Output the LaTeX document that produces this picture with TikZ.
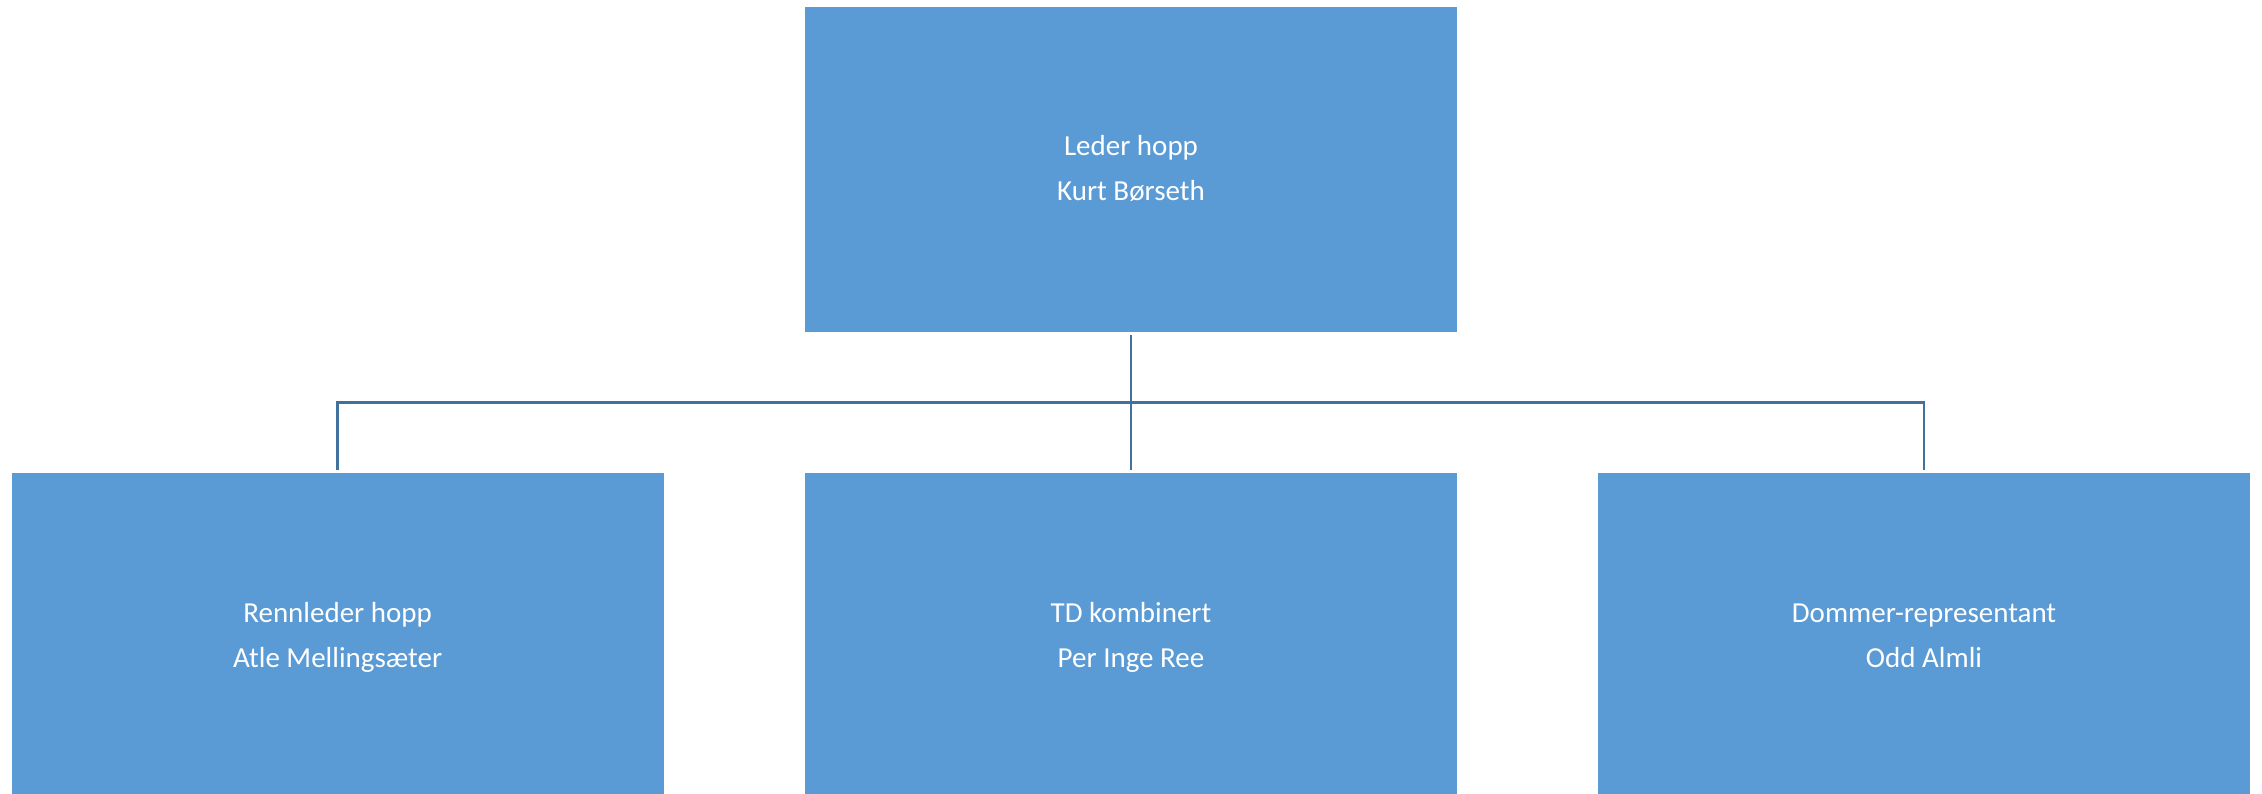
\documentclass[tikz,border=0pt]{standalone}
\usepackage{fontspec}
\setmainfont{Carlito}
\definecolor{boxblue}{RGB}{91,155,213}
\definecolor{lineblue}{RGB}{65,113,156}
\begin{document}
\begin{tikzpicture}[x=1pt,y=-1pt,
  orgbox/.style={fill=boxblue,draw=none,inner sep=0pt},
  orgtext/.style={text=white,align=center,anchor=base,inner sep=0pt,font=\fontsize{29}{45}\selectfont},
  conn/.style={draw=lineblue,line width=2.6pt}]
\useasboundingbox (0,0) rectangle (2262,794);
\node[orgbox,minimum width=652pt,minimum height=325pt] (top) at (1131,169.5) {};
\node[orgbox,minimum width=652pt,minimum height=321pt] (left) at (337.6,633.5) {};
\node[orgbox,minimum width=652pt,minimum height=321pt] (mid) at (1131,633.5) {};
\node[orgbox,minimum width=652pt,minimum height=321pt] (right) at (1924,633.5) {};
\node[orgtext] (ttop) at (1131,201) {Leder hopp\\Kurt Børseth};
\node[orgtext] (tleft) at (337.6,667.7) {Rennleder hopp\\Atle Mellingsæter};
\node[orgtext] (tmid) at (1131,667.7) {TD kombinert\\Per Inge Ree};
\node[orgtext] (tright) at (1924,667.7) {Dommer-representant\\Odd Almli};
\coordinate (junc) at (1131,402.7);
\draw[conn] ([yshift=-3pt]top.south) -- (junc);
\draw[conn] ([yshift=3pt]mid.north) -- (junc);
\draw[conn] ([yshift=3pt]left.north) |- (junc) -| ([yshift=3pt]right.north);
\end{tikzpicture}
\end{document}
